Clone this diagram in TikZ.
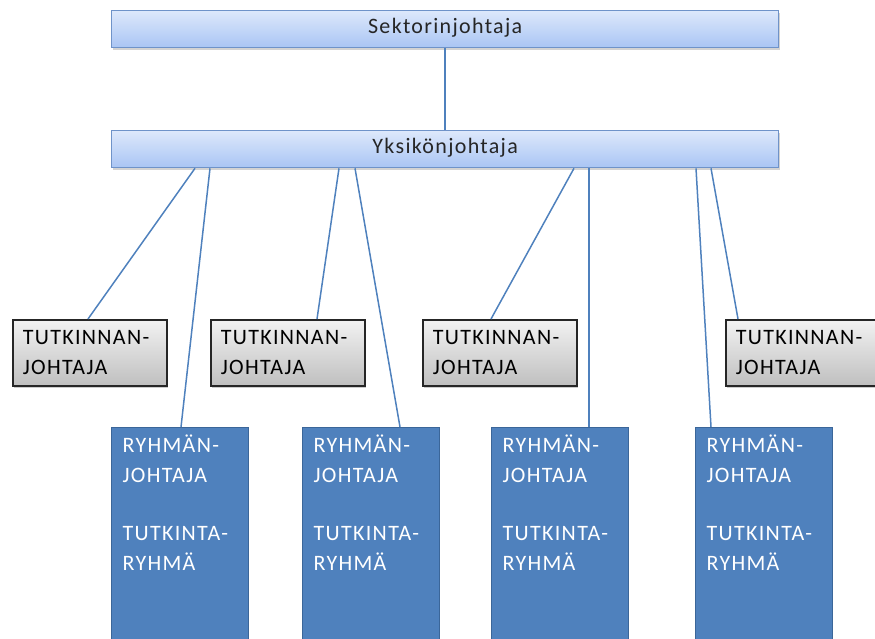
\documentclass[tikz,border=0pt]{standalone}
\usepackage{fontspec}
\setmainfont{Carlito}[LetterSpace=6]
\usepackage{tikz}
\usetikzlibrary{shadows}

\definecolor{linblue}{HTML}{4F81BD}
\definecolor{hdtop}{HTML}{DDE8FB}
\definecolor{hdbot}{HTML}{A9C5F4}
\definecolor{hdedge}{HTML}{6F93C9}
\definecolor{grpblue}{HTML}{4F81BD}
\definecolor{grpedge}{HTML}{3B6699}

\tikzset{
  head/.style={draw=hdedge, line width=1.3pt, top color=hdtop, bottom color=hdbot,
    anchor=north west, minimum width=667pt, minimum height=37pt,
    text height=14pt, text depth=5pt, text=black!85,
    drop shadow={shadow xshift=1pt, shadow yshift=-2pt, opacity=0.35}},
  tjbox/.style={draw=black!85, line width=1.6pt, top color=white!95!black, bottom color=black!25,
    anchor=north west, minimum width=154pt, minimum height=66pt,
    inner xsep=10pt, text width=134pt, align=left,
    text height=14pt, text depth=31pt, text=black,
    drop shadow={shadow xshift=1pt, shadow yshift=-2pt, opacity=0.4}},
  grpbox/.style={draw=grpedge, line width=1.2pt, fill=grpblue,
    anchor=north west, minimum width=137pt,
    inner xsep=11pt, inner ysep=11pt, text width=115pt, align=left,
    text height=14pt, text depth=190pt, text=white},
  conn/.style={draw=linblue, line width=1.5pt}
}

\begin{document}
\begin{tikzpicture}[x=1pt, y=-1pt, font=\fontsize{22}{30}\selectfont]
    \clip (0,0) rectangle (875,639);

    \node[head] (sek) at (111,10) {Sektorinjohtaja};
    \node[head] (yks) at (111,130) {Yksikönjohtaja};

    \node[tjbox] (tj1) at (12,319)  {TUTKINNAN-\\JOHTAJA};
    \node[tjbox] (tj2) at (210,319) {TUTKINNAN-\\JOHTAJA};
    \node[tjbox] (tj3) at (422,319) {TUTKINNAN-\\JOHTAJA};
    \node[tjbox] (tj4) at (725,319) {TUTKINNAN-\\JOHTAJA};

    \node[grpbox] (rj1) at (111,427) {RYHMÄN-\\JOHTAJA\\[28pt]TUTKINTA-\\RYHMÄ};
    \node[grpbox] (rj2) at (302,427) {RYHMÄN-\\JOHTAJA\\[28pt]TUTKINTA-\\RYHMÄ};
    \node[grpbox] (rj3) at (491,427) {RYHMÄN-\\JOHTAJA\\[28pt]TUTKINTA-\\RYHMÄ};
    \node[grpbox] (rj4) at (695,427) {RYHMÄN-\\JOHTAJA\\[28pt]TUTKINTA-\\RYHMÄ};

    \path[conn]
    (sek.south) edge (yks.north)
    ([xshift=84pt]yks.south west)  edge ([xshift=76pt]tj1.north west)
    ([xshift=99pt]yks.south west)  edge ([xshift=70pt]rj1.north west)
    ([xshift=228pt]yks.south west) edge ([xshift=107pt]tj2.north west)
    ([xshift=244pt]yks.south west) edge ([xshift=98pt]rj2.north west)
    ([xshift=463pt]yks.south west) edge ([xshift=69pt]tj3.north west)
    ([xshift=478pt]yks.south west) edge ([xshift=98pt]rj3.north west)
    ([xshift=585pt]yks.south west) edge ([xshift=16pt]rj4.north west)
    ([xshift=600pt]yks.south west) edge ([xshift=13pt]tj4.north west);
\end{tikzpicture}
\end{document}
